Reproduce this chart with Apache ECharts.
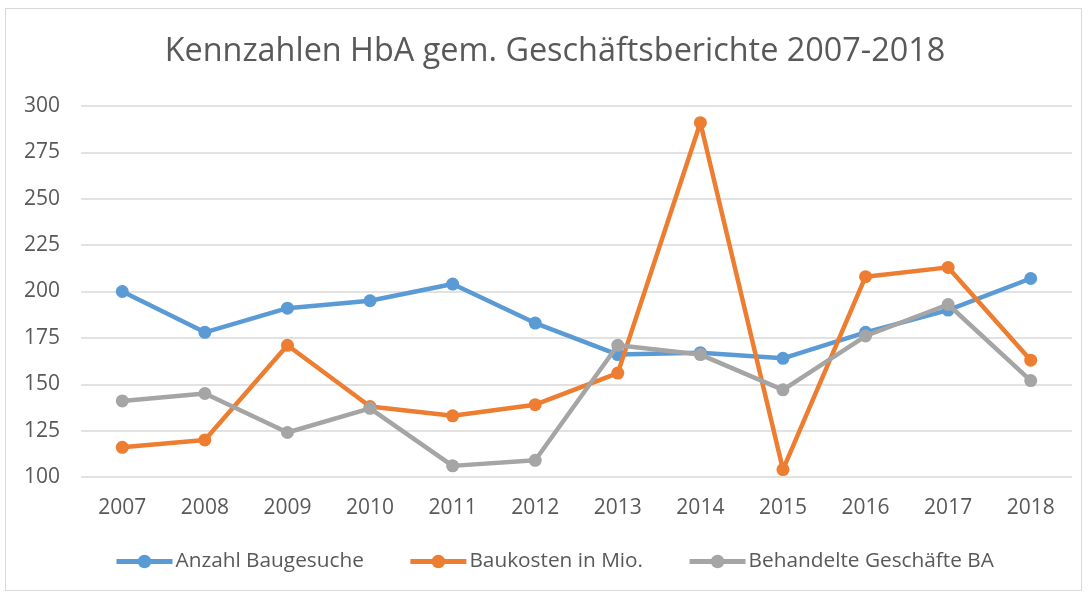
<!DOCTYPE html>
<html><head><meta charset="utf-8">
<script src="https://cdn.jsdelivr.net/npm/echarts@6/dist/echarts.min.js"></script>
<style>html,body{margin:0;padding:0;background:#fff}#c{width:1088px;height:595px}
#b{position:absolute;left:5px;top:8px;width:1077px;height:583px;border:1px solid #d9d9d9;box-sizing:border-box;pointer-events:none}</style>
</head><body><div id="c"></div><div id="b"></div>
<script>
const categories = ['2007','2008','2009','2010','2011','2012','2013','2014','2015','2016','2017','2018'];
const anzahlBaugesuche = [200,178,191,195,204,183,166,167,164,178,190,207];
const baukosten = [116,120,171,138,133,139,156,291,104,208,213,163];
const behandelteGeschaefte = [141,145,124,137,106,109,171,166,147,176,193,152];
const seriesNames = ['Anzahl Baugesuche','Baukosten in Mio.','Behandelte Geschäfte BA'];
const colors = ['#5B9BD5','#ED7D31','#A5A5A5'];
const font = 'Open Sans';
const chart = echarts.init(document.getElementById('c'));
const mk = (name, data, i) => ({
  name, type:'line', data, symbol:'circle', symbolSize:13,
  lineStyle:{width:4.5,color:colors[i]}, itemStyle:{color:colors[i]}, z:2+i
});
chart.setOption({
  animation:false,
  title:{text:'Kennzahlen HbA gem. Geschäftsberichte 2007-2018',left:550,textAlign:'center',top:31,
    textStyle:{fontFamily:font,fontSize:32.4,fontWeight:'normal',color:'#595959'}},
  legend:{bottom:18,left:109,itemWidth:56,itemHeight:17,itemGap:44,
    lineStyle:{width:5},
    textStyle:{fontFamily:font,fontSize:20.8,color:'#595959',padding:[0,0,0,-2]},data:seriesNames},
  grid:{left:81,right:16,top:106,bottom:118},
  xAxis:{type:'category',data:categories,boundaryGap:true,
    axisLine:{show:false},axisTick:{show:false},
    axisLabel:{fontFamily:font,fontSize:21,color:'#595959',margin:21}},
  yAxis:{type:'value',min:100,max:300,interval:25,
    axisLine:{show:false},axisTick:{show:false},
    splitLine:{lineStyle:{color:'#d9d9d9',width:1.5}},
    axisLabel:{fontFamily:font,fontSize:21,color:'#595959',margin:21}},
  series:[mk(seriesNames[0],anzahlBaugesuche,0),mk(seriesNames[1],baukosten,1),mk(seriesNames[2],behandelteGeschaefte,2)]
});
</script></body></html>
